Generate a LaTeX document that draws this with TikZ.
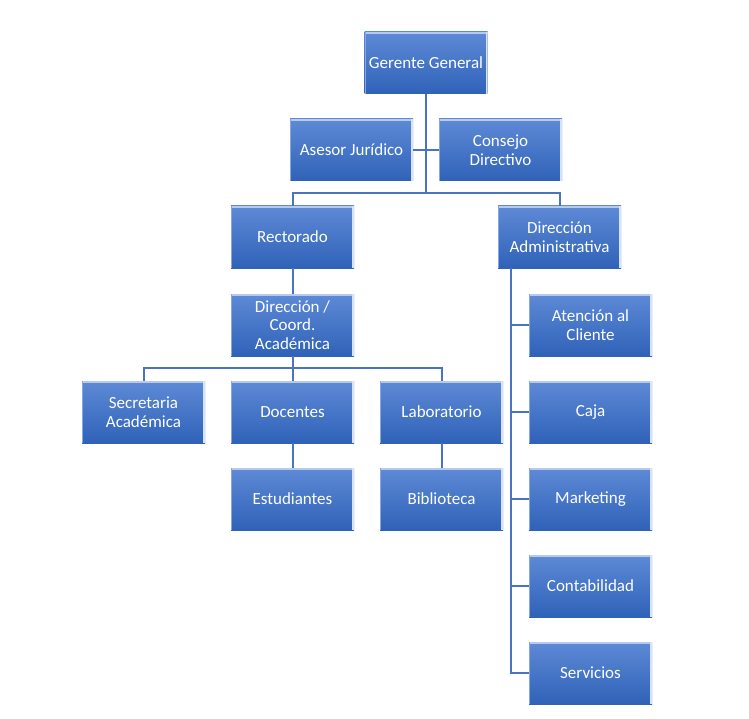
\documentclass[tikz,border=0pt]{standalone}
\usepackage{fontspec}
\setmainfont{Carlito}
\definecolor{boxtop}{HTML}{5E8AD6}
\definecolor{boxbot}{HTML}{2F62B8}
\definecolor{conn}{HTML}{4A74C2}
\tikzset{
  orgbox/.style={rectangle, minimum width=123pt, minimum height=62pt, inner sep=0pt,
    top color=boxtop, bottom color=boxbot, text=white, align=center,
    font=\fontsize{17}{18.5}\selectfont,
    path picture={
      \draw[white!55!boxtop, line width=2.5pt] ([yshift=-1.2pt]path picture bounding box.north west) -- ([yshift=-1.2pt]path picture bounding box.north east);
      \draw[white!75!boxtop, line width=2pt] ([xshift=-1pt]path picture bounding box.north east) -- ([xshift=-1pt]path picture bounding box.south east);
      \draw[white!25!boxtop, line width=1.2pt] ([xshift=0.6pt]path picture bounding box.north west) -- ([xshift=0.6pt]path picture bounding box.south west);
    }},
  link/.style={draw=conn, line width=2pt}
}
\begin{document}
\begin{tikzpicture}[x=1pt,y=-1pt]
\useasboundingbox (0,0) rectangle (749,719);
% connectors first
\coordinate (j1) at (426,193);
\coordinate (j2) at (292.5,368);
\coordinate (rt) at (511,673);
\node[orgbox] (gg) at (426,63) {Gerente General};
\node[orgbox] (aj) at (351.5,150) {Asesor Jurídico};
\node[orgbox] (cd) at (500.5,150) {Consejo\\Directivo};
\node[orgbox] (rec) at (292.5,237) {Rectorado};
\node[orgbox] (da) at (559.5,237) {Dirección\\Administrativa};
\node[orgbox] (dca) at (292.5,325) {Dirección /\\Coord.\\Académica};
\node[orgbox] (sa) at (143.5,412) {Secretaria\\Académica};
\node[orgbox] (doc) at (292.5,412) {Docentes};
\node[orgbox] (lab) at (441.5,412) {Laboratorio};
\node[orgbox] (est) at (292.5,499) {Estudiantes};
\node[orgbox] (bib) at (441.5,499) {Biblioteca};
\node[orgbox] (atc) at (590.5,325) {Atención al\\Cliente};
\node[orgbox] (caja) at (590.5,412) {Caja};
\node[orgbox] (mkt) at (590.5,499) {Marketing};
\node[orgbox] (cont) at (590.5,586) {Contabilidad};
\node[orgbox] (serv) at (590.5,673) {Servicios};
\begin{scope}[on background layer/.try]
\end{scope}
\path[link] (gg.south) -- (j1);
\path[link] (aj.east) -- (cd.west);
\path[link] (rec.north) |- (j1) -| (da.north);
\path[link] (rec.south) -- (dca.north);
\path[link] (dca.south) -- (doc.north);
\path[link] (sa.north) |- (j2) -| (lab.north);
\path[link] (doc.south) -- (est.north);
\path[link] (lab.south) -- (bib.north);
\path[link] (da.south -| rt) |- (serv.west);
\path[link] (atc.west -| rt) -- (atc.west);
\path[link] (caja.west -| rt) -- (caja.west);
\path[link] (mkt.west -| rt) -- (mkt.west);
\path[link] (cont.west -| rt) -- (cont.west);
\end{tikzpicture}
\end{document}
